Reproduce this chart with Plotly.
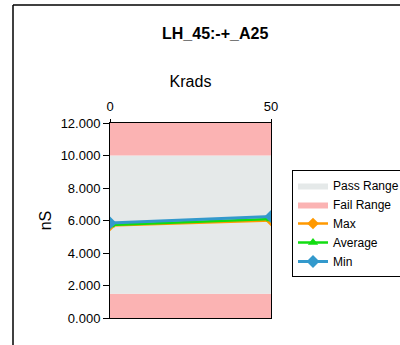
import plotly.graph_objects as go

krads = [0, 50]
max_vals = [5.70, 6.00]
avg_vals = [5.72, 6.10]
min_vals = [5.85, 6.25]
fail_low = [1.5, 1.5]
pass_high = [10.0, 10.0]
fail_high = [12.0, 12.0]
y_ticks = [0, 2, 4, 6, 8, 10, 12]

PASS_C = "#E5E9E9"
FAIL_C = "#FBB3B3"

L, R, T, B = 110, 129, 123, 27
PW, PH = 400 - L - R, 345 - T - B

def px(x):
    return (x - L) / PW

def py(y):
    return (345 - B - y) / PH

fig = go.Figure()
fig.add_trace(go.Scatter(x=krads, y=fail_low, mode="lines", line=dict(width=0),
                         fill="tozeroy", fillcolor=FAIL_C, name="Fail Range",
                         showlegend=False, hoverinfo="skip"))
fig.add_trace(go.Scatter(x=krads, y=pass_high, mode="lines", line=dict(width=0),
                         fill="tonexty", fillcolor=PASS_C, name="Pass Range"))
fig.add_trace(go.Scatter(x=krads, y=fail_high, mode="lines", line=dict(width=0),
                         fill="tonexty", fillcolor=FAIL_C, name="Fail Range"))
fig.add_trace(go.Scatter(x=krads, y=max_vals, mode="lines+markers", name="Max",
                         line=dict(color="#FF9900", width=2.5),
                         marker=dict(symbol="diamond", size=9, color="#FF9900")))
fig.add_trace(go.Scatter(x=krads, y=avg_vals, mode="lines+markers", name="Average",
                         line=dict(color="#11DD11", width=2.5),
                         marker=dict(symbol="triangle-up", size=9, color="#11DD11")))
fig.add_trace(go.Scatter(x=krads, y=min_vals, mode="lines+markers", name="Min",
                         line=dict(color="#3399CC", width=3),
                         marker=dict(symbol="diamond", size=10, color="#3399CC")))

fig.update_layout(
    width=400, height=345,
    margin=dict(l=L, r=R, t=T, b=B, autoexpand=False),
    paper_bgcolor="white", plot_bgcolor="white",
    font=dict(family="Liberation Sans, Arial, sans-serif", size=13, color="black"),
    showlegend=True,
    legend=dict(x=px(292), y=py(170), xanchor="left", yanchor="top",
                bordercolor="black", borderwidth=1, bgcolor="white",
                font=dict(size=12), traceorder="normal", tracegroupgap=0,
                itemwidth=30),
    xaxis=dict(range=[0, 50], side="top", tickvals=krads, ticks="outside",
               ticklen=3, tickcolor="black", showgrid=False, zeroline=False,
               showline=True, linecolor="black", linewidth=1, mirror=True,
               ticklabelstandoff=3,
               title=dict(text="Krads", font=dict(size=16), standoff=7)),
    yaxis=dict(range=[0, 12], tickvals=y_ticks, tickformat=".3f", ticks="outside",
               ticklen=6, tickcolor="black", showgrid=False, zeroline=False,
               showline=True, linecolor="black", linewidth=1, mirror=True,
               title=dict(text="nS", font=dict(size=16), standoff=5)),
    annotations=[dict(text="<b>LH_45:-+_A25</b>", x=px(215), y=py(33),
                      xref="paper", yref="paper", showarrow=False,
                      xanchor="center", yanchor="middle",
                      font=dict(size=16))],
    shapes=[
        dict(type="line", xref="paper", yref="paper", x0=px(13), x1=px(13),
             y0=py(5), y1=py(345), line=dict(color="black", width=1.5)),
        dict(type="line", xref="paper", yref="paper", x0=px(13), x1=px(400),
             y0=py(5), y1=py(5), line=dict(color="black", width=1.5)),
    ],
)

fig.write_html("out.html", config={"displayModeBar": False},
               post_script="document.body.style.margin='0';document.body.style.overflow='hidden';")
